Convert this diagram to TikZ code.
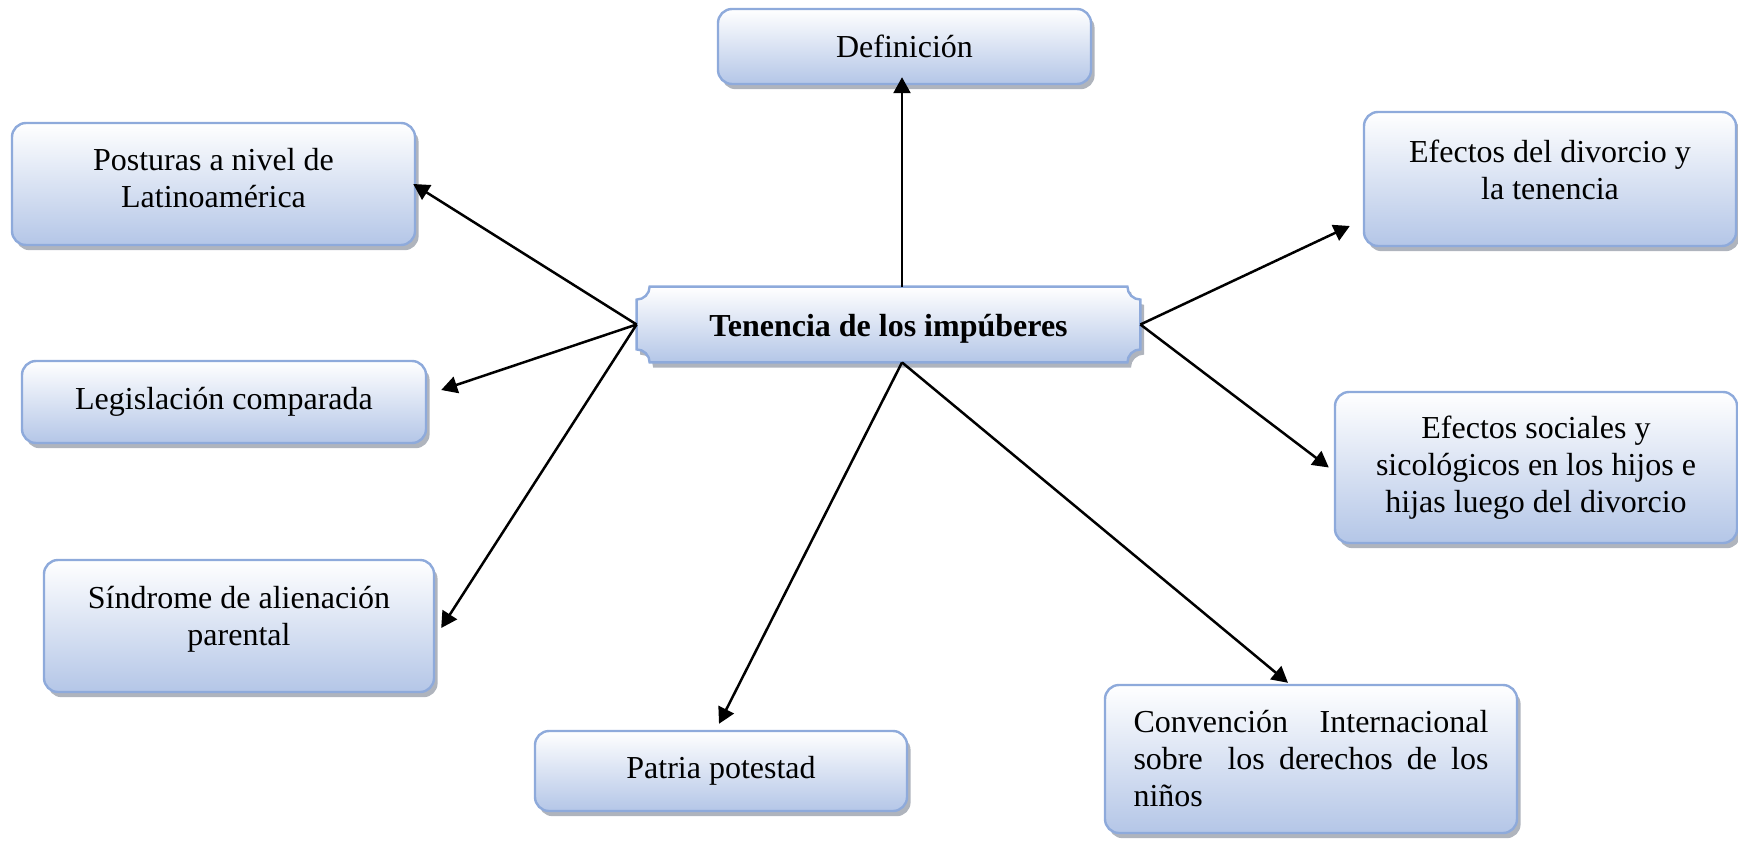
\documentclass[tikz,border=0pt]{standalone}
\usepackage{fontspec}
\setmainfont{Liberation Serif}
\usetikzlibrary{arrows.meta,shadows,calc,backgrounds}
\definecolor{bord}{RGB}{142,170,219}
\definecolor{fillb}{RGB}{180,198,231}
\definecolor{shad}{RGB}{110,118,135}
\begin{document}
\begin{tikzpicture}[x=0.5pt,y=-0.5pt,
  box/.style={draw=bord, line width=1.2pt, rounded corners=7pt,
    top color=white, bottom color=fillb,
    drop shadow={shadow xshift=1.8pt, shadow yshift=-2.6pt, fill=shad, opacity=0.55},
    font=\fontsize{16}{18.5}\selectfont, align=center, inner sep=0pt},
  txt/.style={font=\fontsize{16}{18.5}\selectfont, align=center, inner sep=0pt},
  conn/.style={-{Triangle[length=8pt,width=8.5pt]}, line width=1.25pt}]
\useasboundingbox (0,0) rectangle (1738,840);

\node[box, minimum width=186.5pt, minimum height=37.5pt] (def) at (904.5,46.5) {Definición};
\node[box, minimum width=201.5pt, minimum height=61pt] (post) at (213.5,184) {};
\node[txt] (postT) at ($(post)+(0,-6)$) {Posturas a nivel de\\Latinoamérica};
\node[box, minimum width=202pt, minimum height=41pt] (leg) at (224,402) {Legislación comparada};
\node[box, minimum width=195pt, minimum height=66pt] (sind) at (239,626) {};
\node[txt] (sindT) at ($(sind)+(0,-7)$) {Síndrome de alienación\\parental};
\node[box, minimum width=186pt, minimum height=40pt] (patria) at (721,771) {Patria potestad};
\node[box, minimum width=206pt, minimum height=74pt, align=left, text width=177.5pt] (conv) at (1311,759)
  {\makebox[177.5pt][l]{Convención \hfill Internacional}\\
   \makebox[177.5pt][l]{sobre \ \hfill los \hfill derechos \hfill de \hfill los}\\niños};
\node[box, minimum width=186pt, minimum height=67pt] (efdiv) at (1550,179) {};
\node[txt] (efdivT) at ($(efdiv)+(0,-9)$) {Efectos del divorcio y\\la tenencia};
\node[box, minimum width=201pt, minimum height=75.5pt] (efsoc) at (1536,467.5) {Efectos sociales y\\sicológicos en los hijos e\\hijas luego del divorcio};

\node[minimum width=251.5pt, minimum height=37.5pt, inner sep=0pt] (ctr) at (888.5,324.5) {};
\node[txt, font=\fontsize{16}{18.5}\selectfont\bfseries] (ctrT) at ($(ctr)+(0,4)$) {Tenencia de los impúberes};
\begin{scope}[on background layer]
\shade[top color=white, bottom color=fillb, draw=bord, line width=1.2pt,
  drop shadow={shadow xshift=1.8pt, shadow yshift=-2.6pt, fill=shad, opacity=0.55}]
  let \p1=(ctr.north west), \p2=(ctr.south east) in
  (\x1+6.5pt,\y1) -- (\x2-6.5pt,\y1)
  .. controls (\x2-6.5pt,\y1-3.6pt) and (\x2-3.6pt,\y1-6.5pt) .. (\x2,\y1-6.5pt)
  -- (\x2,\y2+6.5pt)
  .. controls (\x2-3.6pt,\y2+6.5pt) and (\x2-6.5pt,\y2+3.6pt) .. (\x2-6.5pt,\y2)
  -- (\x1+6.5pt,\y2)
  .. controls (\x1+6.5pt,\y2+3.6pt) and (\x1+3.6pt,\y2+6.5pt) .. (\x1,\y2+6.5pt)
  -- (\x1,\y1-6.5pt)
  .. controls (\x1+3.6pt,\y1-6.5pt) and (\x1+6.5pt,\y1-3.6pt) .. (\x1+6.5pt,\y1)
  -- cycle;
\end{scope}

\draw[conn] ($(ctr.north)+(13.5,0)$) -- ($(def.south)+(-2.5,-8)$);
\draw[conn] (ctr.west) -- ($(post.east)+(-3,0)$);
\draw[conn] (ctr.west) -- ($(leg.east)+(14,-12)$);
\draw[conn] (ctr.west) -- ($(sind.east)+(6,2)$);
\draw[conn] ($(ctr.south)+(13.5,0)$) -- ($(patria.north)+(-2,-6)$);
\draw[conn] ($(ctr.south)+(13.5,0)$) -- ($(conv.north)+(-23,-1)$);
\draw[conn] (ctr.east) -- ($(efdiv.west)+(-13,47)$);
\draw[conn] (ctr.east) -- ($(efsoc.west)+(-5,0)$);
\end{tikzpicture}
\end{document}
